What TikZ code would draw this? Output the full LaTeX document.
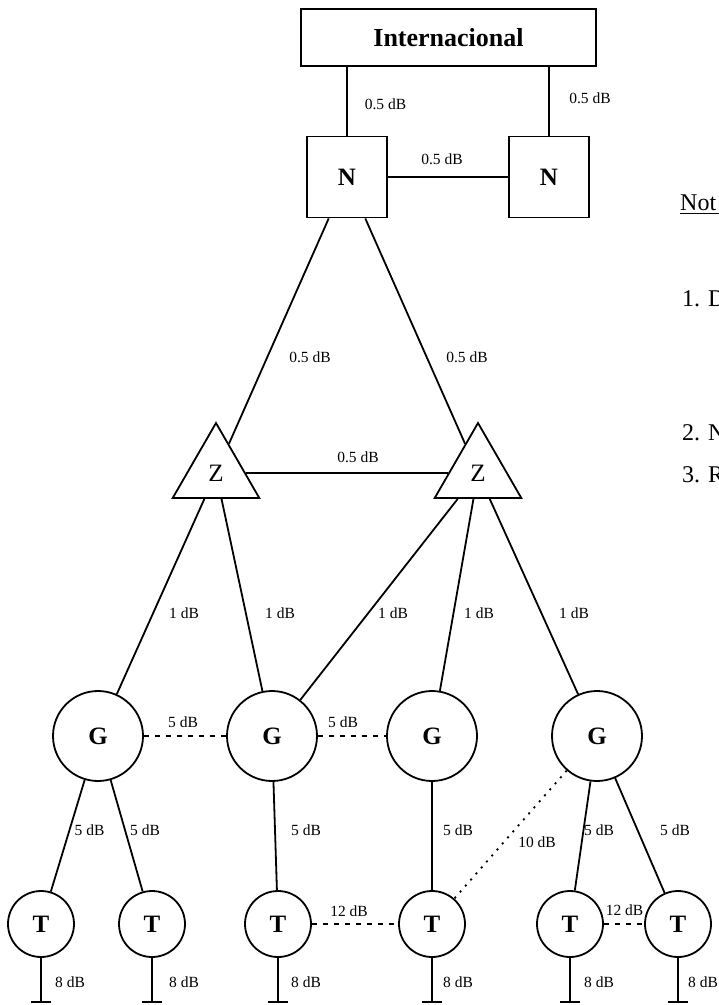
\documentclass[tikz,border=0pt]{standalone}
\usepackage{fontspec}
\setmainfont{Liberation Serif}
\usetikzlibrary{shapes.geometric}
\begin{document}
\begin{tikzpicture}[x=1pt,y=-1pt,
  lbl/.style={font=\fontsize{15.5}{18}\selectfont, inner sep=0pt},
  bigb/.style={font=\fontsize{25}{30}\selectfont\bfseries},
  boxn/.style={draw, line width=1.8pt, minimum width=80pt, minimum height=81pt, inner sep=0pt, bigb},
  intlbox/.style={draw, line width=1.8pt, minimum width=295pt, minimum height=57pt, inner sep=0pt, font=\fontsize{26}{30}\selectfont\bfseries},
  tri/.style={draw, line width=1.8pt, regular polygon, regular polygon sides=3, minimum size=100pt, inner sep=0pt, font=\fontsize{25}{30}\selectfont},
  gnode/.style={draw, circle, line width=1.8pt, minimum size=90pt, inner sep=0pt, bigb},
  tnode/.style={draw, circle, line width=1.8pt, minimum size=66pt, inner sep=0pt, bigb},
  link/.style={line width=1.8pt},
  dlink/.style={line width=1.8pt, dash pattern=on 5pt off 6pt},
  olink/.style={line width=1.8pt, dash pattern=on 2pt off 6pt},
  note/.style={font=\fontsize{24}{28}\selectfont, anchor=base west, inner sep=0pt},
]
\useasboundingbox (0,0) rectangle (719,1005);

% nodes
\node[intlbox] (intl) at (448.5,37.5) {Internacional};
\node[boxn] (n1) at (347,177) {N};
\node[boxn] (n2) at (549,177) {N};
\node[tri] (z1) at (216,473) {Z};
\node[tri] (z2) at (478,473) {Z};
\node[gnode] (g1) at (98,736) {G};
\node[gnode] (g2) at (272,736) {G};
\node[gnode] (g3) at (432,736) {G};
\node[gnode] (g4) at (597,736) {G};
\node[tnode] (t1) at (41,924) {T};
\node[tnode] (t2) at (152,924) {T};
\node[tnode] (t3) at (278,924) {T};
\node[tnode] (t4) at (432,924) {T};
\node[tnode] (t5) at (570,924) {T};
\node[tnode] (t6) at (678,924) {T};

% top links
\draw[link] (n1.north) -- (n1.north |- intl.south);
\draw[link] (n2.north) -- (n2.north |- intl.south);
\draw[link] (n1) -- (n2);
\node[lbl] (l1) at (385.5,104) {0.5 dB};
\node[lbl] (l2) at (590,98) {0.5 dB};
\node[lbl] (l3) at (442,159) {0.5 dB};

% N - Z
\draw[link] (n1) -- (z1);
\draw[link] (n1) -- (z2);
\draw[link] (z1) -- (z2);
\node[lbl] (l4) at (310,357) {0.5 dB};
\node[lbl] (l5) at (467,357) {0.5 dB};
\node[lbl] (l6) at (358,457) {0.5 dB};

% Z - G
\draw[link] (z1) -- (g1);
\draw[link] (z1) -- (g2);
\draw[link] (z2) -- (g2);
\draw[link] (z2) -- (g3);
\draw[link] (z2) -- (g4);
\node[lbl] (l7) at (184,613) {1 dB};
\node[lbl] (l8) at (280,613) {1 dB};
\node[lbl] (l9) at (393,613) {1 dB};
\node[lbl] (l10) at (479,613) {1 dB};
\node[lbl] (l11) at (574,613) {1 dB};

% G - G
\draw[dlink] (g1) -- (g2);
\draw[dlink] (g2) -- (g3);
\node[lbl] (l12) at (183,722) {5 dB};
\node[lbl] (l13) at (343,722) {5 dB};

% G - T
\draw[link] (g1) -- (t1);
\draw[link] (g1) -- (t2);
\draw[link] (g2) -- (t3);
\draw[link] (g3) -- (t4);
\draw[link] (g4) -- (t5);
\draw[link] (g4) -- (t6);
\draw[olink] (g4) -- (t4);
\node[lbl] (l14) at (89.5,830) {5 dB};
\node[lbl] (l15) at (145,830) {5 dB};
\node[lbl] (l16) at (306,830) {5 dB};
\node[lbl] (l17) at (458,830) {5 dB};
\node[lbl] (l18) at (537,842) {10 dB};
\node[lbl] (l19) at (599,830) {5 dB};
\node[lbl] (l20) at (675,830) {5 dB};

% T - T
\draw[dlink] (t3) -- (t4);
\draw[dlink] (t5) -- (t6);
\node[lbl] (l21) at (349,911) {12 dB};
\node[lbl] (l22) at (624.5,910) {12 dB};

% stems
\foreach \t/\lx in {t1/70, t2/184, t3/306, t4/458, t5/599, t6/703} {
  \coordinate (\t e) at (\t.south |- 0,1002);
  \draw[link] (\t.south) -- (\t e);
  \draw[link] ([xshift=-10pt]\t e) -- ([xshift=10pt]\t e);
  \node[lbl] at (\lx,982) {8 dB};
}

% notes (cut by the right edge, as in the reference)
\begin{scope}
\clip (600,150) rectangle (719,560);
\node[note] (nt) at (680,210) {Not};
\draw[line width=1pt] (680,213.5) -- (719,213.5);
\node[note] (n1t) at (682,306) {1. D};
\node[note] (n2t) at (682,440) {2. N};
\node[note] (n3t) at (682,482) {3. R};
\end{scope}
\end{tikzpicture}
\end{document}
